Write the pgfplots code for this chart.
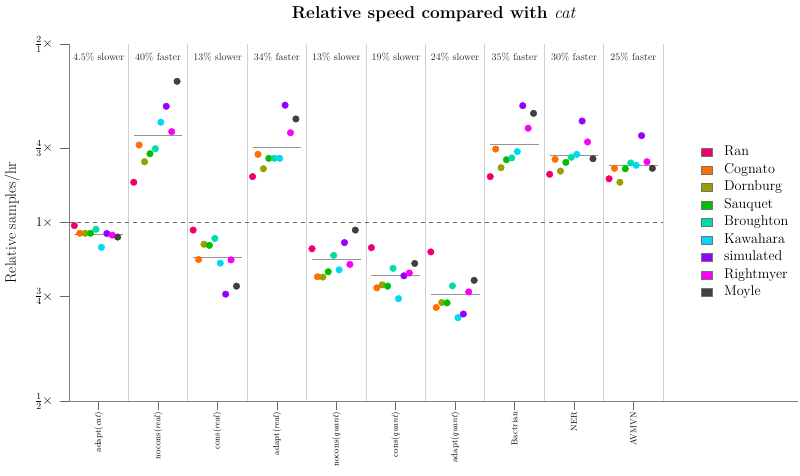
\RequirePackage{fix-cm}
\documentclass[border=0pt]{standalone}
\usepackage{pgfplots}
\pgfplotsset{compat=1.18}
\definecolor{cRan}{RGB}{240,0,110}
\definecolor{cCog}{RGB}{255,110,0}
\definecolor{cDor}{RGB}{150,160,0}
\definecolor{cSau}{RGB}{0,190,0}
\definecolor{cBro}{RGB}{0,220,170}
\definecolor{cKaw}{RGB}{0,215,250}
\definecolor{cSim}{RGB}{150,0,255}
\definecolor{cRig}{RGB}{250,0,245}
\definecolor{cMoy}{RGB}{64,64,64}
\pgfplotsset{
  legsq/.style={legend image code/.code={\draw[fill=#1,draw=black!55,line width=0.5pt] (0pt,-3.8pt) rectangle (11pt,3.8pt); \path (21pt,0pt);}},
  dots/.style={only marks, mark=*, mark size=3.3pt, color=#1, mark options={draw=none, fill=#1}, legsq=#1},
  meanl/.style={black!42, line width=0.8pt, forget plot},
}
\begin{document}
\begin{tikzpicture}
\begin{axis}[
  scale only axis, width=729pt, height=357pt,
  xmin=-0.5, xmax=11.77, ymin=0.5, ymax=2,
  ymode=log, log basis y=2,
  axis x line*=bottom, axis y line*=left,
  axis line style={black!50, line width=0.8pt},
  tick align=outside,
  major tick length=8.5pt,
  every tick/.style={black!60, line width=0.8pt},
  xtick={0,1,2,3,4,5,6,7,8,9},
  xticklabels={adapt(\textit{cat}),nocons(\textit{real}),cons(\textit{real}),adapt(\textit{real}),nocons(\textit{quant}),cons(\textit{quant}),adapt(\textit{quant}),Bactrian,NER,AVMVN},
  xticklabel style={yshift=1pt, rotate=90, anchor=east, font=\fontsize{8.6}{10}\selectfont},
  ytick={0.5,0.75,1,1.333333,2},
  yticklabels={$\frac{1}{2}\times$,$\frac{3}{4}\times$,$1\times$,$\frac{4}{3}\times$,$\frac{2}{1}\times$},
  yticklabel style={xshift=-4pt, font=\fontsize{13.5}{14}\selectfont},
  minor xtick={0.5,1.5,2.5,3.5,4.5,5.5,6.5,7.5,8.5,9.5},
  xminorgrids, minor grid style={black!18, line width=0.8pt}, minor tick length=0pt,
  ylabel={Relative samples/hr},
  every axis y label/.style={at={(rel axis cs:0,0.5)}, xshift=-57pt, rotate=90, anchor=center, font=\fontsize{15.2}{16}\selectfont},
  title={\bfseries Relative speed compared with {\mdseries\itshape cat}},
  title style={at={(0.5,1)}, anchor=base, yshift=20pt, font=\fontsize{17.2}{20}\selectfont},
  legend style={at={(0.862,0.5)}, anchor=west, draw=none, fill=none, font=\fontsize{14.2}{17}\selectfont, row sep=0pt, nodes={text height=10pt, text depth=3.5pt, inner ysep=2pt}},
  legend cell align=left,
  clip=false,
]
\addplot[dots=cRan] coordinates {(-0.41,0.988) (0.59,1.169) (1.59,0.971) (2.59,1.195) (3.59,0.903) (4.59,0.907) (5.59,0.892) (6.59,1.195) (7.59,1.206) (8.59,1.185)};
\addlegendentry{Ran}
\addplot[dots=cCog] coordinates {(-0.319,0.959) (0.681,1.351) (1.681,0.866) (2.681,1.303) (3.681,0.810) (4.681,0.776) (5.681,0.719) (6.681,1.330) (7.681,1.278) (8.681,1.234)};
\addlegendentry{Cognato}
\addplot[dots=cDor] coordinates {(-0.228,0.959) (0.772,1.266) (1.772,0.919) (2.772,1.232) (3.772,0.809) (4.772,0.785) (5.772,0.733) (6.772,1.237) (7.772,1.221) (8.772,1.169)};
\addlegendentry{Dornburg}
\addplot[dots=cSau] coordinates {(-0.137,0.959) (0.863,1.306) (1.863,0.915) (2.863,1.283) (3.863,0.826) (4.863,0.781) (5.863,0.732) (6.863,1.276) (7.863,1.263) (8.863,1.232)};
\addlegendentry{Sauquet}
\addplot[dots=cBro] coordinates {(-0.046,0.974) (0.954,1.332) (1.954,0.940) (2.954,1.283) (3.954,0.880) (4.954,0.837) (5.954,0.782) (6.954,1.285) (7.954,1.288) (8.954,1.260)};
\addlegendentry{Broughton}
\addplot[dots=cKaw] coordinates {(0.046,0.908) (1.046,1.476) (2.046,0.854) (3.046,1.283) (4.046,0.832) (5.046,0.744) (6.046,0.691) (7.046,1.317) (8.046,1.303) (9.046,1.249)};
\addlegendentry{Kawahara}
\addplot[dots=cSim] coordinates {(0.137,0.958) (1.137,1.570) (2.137,0.757) (3.137,1.577) (4.137,0.925) (5.137,0.813) (6.137,0.701) (7.137,1.574) (8.137,1.483) (9.137,1.401)};
\addlegendentry{simulated}
\addplot[dots=cRig] coordinates {(0.228,0.952) (1.228,1.423) (2.228,0.865) (3.228,1.417) (4.228,0.850) (5.228,0.822) (6.228,0.764) (7.228,1.442) (8.228,1.367) (9.228,1.266)};
\addlegendentry{Rightmyer}
\addplot[dots=cMoy] coordinates {(0.319,0.945) (1.319,1.730) (2.319,0.781) (3.319,1.495) (4.319,0.971) (5.319,0.853) (6.319,0.799) (7.319,1.528) (8.319,1.281) (9.319,1.234)};
\addlegendentry{Moyle}
% reference line at 1x
\addplot[black!60, line width=0.8pt, dash pattern=on 4pt off 4pt, forget plot] coordinates {(-0.5,1) (9.5,1)};
% mean lines
\addplot[meanl] coordinates {(-0.41,0.955) (0.41,0.955)};
\addplot[meanl] coordinates {(0.59,1.403) (1.41,1.403)};
\addplot[meanl] coordinates {(1.59,0.874) (2.41,0.874)};
\addplot[meanl] coordinates {(2.59,1.339) (3.41,1.339)};
\addplot[meanl] coordinates {(3.59,0.867) (4.41,0.867)};
\addplot[meanl] coordinates {(4.59,0.813) (5.41,0.813)};
\addplot[meanl] coordinates {(5.59,0.757) (6.41,0.757)};
\addplot[meanl] coordinates {(6.59,1.355) (7.41,1.355)};
\addplot[meanl] coordinates {(7.59,1.298) (8.41,1.298)};
\addplot[meanl] coordinates {(8.59,1.249) (9.41,1.249)};
% annotations
\begin{scope}[every node/.style={font=\fontsize{10}{12}\selectfont, text=black!85}]
\node at (axis cs:0,1.9) {4.5\% slower};
\node at (axis cs:1,1.9) {40\% faster};
\node at (axis cs:2,1.9) {13\% slower};
\node at (axis cs:3,1.9) {34\% faster};
\node at (axis cs:4,1.9) {13\% slower};
\node at (axis cs:5,1.9) {19\% slower};
\node at (axis cs:6,1.9) {24\% slower};
\node at (axis cs:7,1.9) {35\% faster};
\node at (axis cs:8,1.9) {30\% faster};
\node at (axis cs:9,1.9) {25\% faster};
\end{scope}
\end{axis}
\pgfresetboundingbox
\path ([shift={(-69pt,-74pt)}]current axis.south west) rectangle ([shift={(2pt,44pt)}]current axis.north east);
\end{tikzpicture}
\end{document}
